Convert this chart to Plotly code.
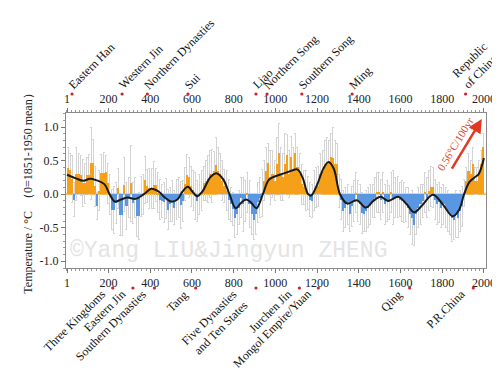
import plotly.graph_objects as go

# ---------------- data ----------------
decade_start = list(range(1, 2001, 10))  # 1,11,...,1991

anomaly = [
    0.39, 0.36, 0.22, -0.08, 0.30, 0.30, 0.28, 0.16, 0.16, 0.29,      # 1-100
    0.29, 0.46, 0.46, 0.12, -0.18, 0.05, 0.32, 0.32, 0.33, 0.16,      # 100-200
    0.00, -0.23, -0.23, -0.13, 0.09, -0.31, -0.31, 0.14, -0.18, -0.05,  # 200-300
    0.16, -0.13, -0.05, -0.33, -0.33, -0.03, 0.00, 0.21, 0.12, 0.09,  # 300-400
    0.09, 0.14, 0.14, 0.02, -0.08, -0.10, -0.12, -0.06, -0.23, -0.15,  # 400-500
    -0.10, -0.20, -0.08, -0.05, -0.16, -0.10, 0.15, 0.29, 0.25, 0.12,  # 500-600
    0.06, -0.02, -0.10, 0.00, 0.05, 0.16, 0.20, 0.22, 0.30, 0.27,     # 600-700
    0.34, 0.44, 0.35, 0.30, 0.20, 0.12, 0.05, -0.08, -0.15, -0.22,    # 700-800
    -0.35, -0.30, -0.20, -0.05, -0.15, -0.10, 0.02, -0.15, -0.30, -0.38,  # 800-900
    -0.30, -0.12, -0.05, 0.02, 0.20, 0.35, 0.46, 0.25, 0.30, 0.20,    # 900-1000
    0.45, 0.61, 0.30, 0.25, 0.45, 0.59, 0.30, 0.56, 0.35, 0.61,       # 1000-1100
    0.40, 0.30, 0.15, 0.10, 0.05, 0.02, -0.08, -0.10, 0.05, 0.10,     # 1100-1200
    0.12, 0.30, 0.35, 0.45, 0.45, 0.50, 0.55, 0.54, 0.45, 0.45,       # 1200-1300
    0.05, -0.08, -0.25, -0.20, -0.15, -0.30, -0.18, -0.10, 0.02, -0.10,  # 1300-1400
    -0.15, -0.28, -0.30, -0.25, -0.20, -0.15, -0.10, -0.05, 0.03, 0.03,  # 1400-1500
    -0.08, 0.03, -0.15, -0.10, -0.12, 0.03, -0.05, -0.05, -0.04, -0.08,  # 1500-1600
    -0.10, -0.12, -0.15, -0.20, -0.30, -0.35, -0.46, -0.30, -0.20, -0.15,  # 1600-1700
    -0.10, 0.03, -0.05, 0.05, 0.11, 0.10, -0.08, -0.15, -0.12, -0.20,  # 1700-1800
    -0.15, -0.20, -0.25, -0.30, -0.35, -0.38, -0.30, -0.35, -0.25, -0.18,  # 1800-1900
    0.02, 0.20, 0.35, 0.30, 0.45, 0.20, 0.20, 0.30, 0.45, 0.71,       # 1900-2000
]

uncertainty = [
    0.30, 0.25, 0.35, 0.25, 0.40, 0.30, 0.30, 0.35, 0.30, 0.25,
    0.30, 0.54, 0.35, 0.30, 0.20, 0.30, 0.27, 0.30, 0.25, 0.30,
    0.30, 0.30, 0.35, 0.30, 0.30, 0.30, 0.30, 0.40, 0.35, 0.30,
    0.56, 0.30, 0.30, 0.30, 0.35, 0.30, 0.30, 0.35, 0.25, 0.30,
    0.30, 0.35, 0.25, 0.30, 0.30, 0.25, 0.30, 0.30, 0.30, 0.25,
    0.30, 0.25, 0.30, 0.30, 0.35, 0.30, 0.25, 0.30, 0.30, 0.30,
    0.30, 0.35, 0.30, 0.30, 0.30, 0.25, 0.30, 0.35, 0.35, 0.40,
    0.30, 0.40, 0.35, 0.30, 0.30, 0.25, 0.30, 0.30, 0.25, 0.25,
    0.30, 0.30, 0.25, 0.30, 0.40, 0.30, 0.30, 0.35, 0.30, 0.30,
    0.30, 0.30, 0.30, 0.35, 0.30, 0.35, 0.30, 0.40, 0.35, 0.30,
    0.40, 0.45, 0.40, 0.35, 0.45, 0.30, 0.35, 0.30, 0.35, 0.30,
    0.30, 0.30, 0.30, 0.25, 0.30, 0.25, 0.25, 0.25, 0.30, 0.30,
    0.30, 0.30, 0.30, 0.35, 0.40, 0.30, 0.35, 0.45, 0.35, 0.30,
    0.25, 0.30, 0.30, 0.30, 0.30, 0.25, 0.30, 0.30, 0.30, 0.30,
    0.30, 0.30, 0.25, 0.30, 0.30, 0.30, 0.25, 0.30, 0.30, 0.30,
    0.30, 0.30, 0.30, 0.30, 0.25, 0.30, 0.40, 0.30, 0.30, 0.25,
    0.30, 0.30, 0.25, 0.30, 0.30, 0.40, 0.30, 0.30, 0.30, 0.30,
    0.25, 0.30, 0.30, 0.30, 0.30, 0.30, 0.30, 0.30, 0.30, 0.30,
    0.30, 0.30, 0.30, 0.30, 0.35, 0.30, 0.35, 0.30, 0.30, 0.30,
    0.20, 0.20, 0.25, 0.20, 0.25, 0.20, 0.20, 0.20, 0.20, 0.20,
]

smooth_year = [1, 40, 80, 110, 140, 180, 205, 230, 260, 290, 330, 370, 405, 440,
               470, 500, 530, 555, 580, 605, 625, 650, 690, 720, 750, 780, 810,
               835, 860, 885, 909, 940, 970, 1020, 1060, 1105, 1130, 1157, 1172,
               1200, 1230, 1255, 1280, 1310, 1345, 1390, 1435, 1470, 1505, 1540,
               1590, 1630, 1665, 1700, 1755, 1800, 1850, 1880, 1905, 1930, 1955,
               1975, 1990, 2000]
smooth_val = [0.29, 0.24, 0.20, 0.23, 0.21, 0.15, 0.00, -0.11, -0.08, -0.05, -0.07,
              0.00, 0.08, 0.04, -0.05, -0.11, -0.08, 0.04, 0.11, 0.03, -0.03, 0.04,
              0.26, 0.31, 0.22, 0.00, -0.21, -0.13, -0.08, -0.13, -0.21, 0.00, 0.22,
              0.29, 0.33, 0.37, 0.25, 0.00, -0.02, 0.14, 0.38, 0.48, 0.38, 0.00,
              -0.14, -0.09, -0.20, -0.10, -0.04, -0.10, -0.04, -0.15, -0.27, -0.18,
              -0.01, -0.14, -0.33, -0.24, 0.00, 0.18, 0.25, 0.30, 0.42, 0.54]

tick_years = [1, 200, 400, 600, 800, 1000, 1200, 1400, 1600, 1800, 2000]
tick_text = [str(t) for t in tick_years]

top_dyn_names = ["Eastern Han", "Western Jin", "Northern Dynasties", "Sui", "Liao",
                 "Northern Song", "Southern Song", "Ming", "Republic<br>of China"]
top_dyn_years = [25, 265, 386, 581, 907, 960, 1127, 1368, 1912]

bot_dyn_names = ["Three Kingdoms", "Eastern Jin", "Southern Dynasties", "Tang",
                 "Five Dynasties<br>and Ten States", "Jurchen Jin",
                 "Mongol Empire/Yuan", "Qing", "P.R.China"]
bot_dyn_years = [220, 317, 420, 618, 907, 1115, 1206, 1644, 1949]

# ---------------- styles ----------------
ORANGE = "#F6A01A"
BLUE = "#5A97E3"
RED = "#E23A22"
SERIF = "Liberation Serif, Times New Roman, serif"
bar_colors = [ORANGE if v >= 0 else BLUE for v in anomaly]
Y_TOP, Y_BOT = 1.21, -1.1

fig = go.Figure()
# uncertainty whiskers (drawn first, behind the bars)
fig.add_trace(go.Bar(
    x=decade_start, y=anomaly, width=10, offset=0,
    marker=dict(color="rgba(0,0,0,0)", line=dict(width=0)),
    error_y=dict(type="data", array=uncertainty, color="#d4d4d4",
                 thickness=1, width=1),
    hoverinfo="skip", showlegend=False,
))
fig.add_trace(go.Bar(
    x=decade_start, y=anomaly, width=10, offset=0,
    marker=dict(color=bar_colors, line=dict(width=0)),
    hoverinfo="skip", showlegend=False,
))
fig.add_trace(go.Scatter(
    x=smooth_year, y=smooth_val, mode="lines",
    line=dict(color="#1a1a1a", width=2, shape="spline", smoothing=1.0),
    hoverinfo="skip", showlegend=False,
))
# invisible trace on the top axis
fig.add_trace(go.Scatter(x=[tick_years[0], tick_years[-1]], y=[0, 0], xaxis="x2",
                         mode="lines", line=dict(width=0), opacity=0,
                         hoverinfo="skip", showlegend=False))

XR = [-4, 2010]
axis_common = dict(
    range=XR, tickvals=tick_years, ticktext=tick_text, ticks="outside",
    ticklen=4, tickcolor="#777", tickwidth=1, showgrid=False, zeroline=False,
    showline=True, linecolor="#8a8a8a", linewidth=1, automargin=False,
    tickfont=dict(family=SERIF, size=12, color="#222"),
    minor=dict(dtick=20, tick0=0, ticks="outside", ticklen=2, tickcolor="#999"),
)
fig.update_layout(
    width=500, height=372,
    margin=dict(l=58, r=22, t=105, b=112, autoexpand=False),
    paper_bgcolor="white", plot_bgcolor="white",
    bargap=0, barmode="overlay",
    xaxis=dict(**axis_common, side="bottom"),
    xaxis2=dict(**axis_common, side="top", overlaying="x", matches="x", anchor="y"),
    yaxis=dict(
        range=[Y_BOT, Y_TOP], tickvals=[-1.0, -0.5, 0.0, 0.5, 1.0],
        ticktext=["-1.0", "-0.5", "0.0", "0.5", "1.0"],
        ticks="outside", ticklen=4, tickcolor="#777", automargin=False,
        minor=dict(dtick=0.1, ticks="outside", ticklen=2, tickcolor="#999"),
        showgrid=False, zeroline=False, showline=True, mirror=True,
        linecolor="#8a8a8a", linewidth=1,
        tickfont=dict(family=SERIF, size=12, color="#222"),
        title=dict(text="Temperature / °C  （0=1851-1950 mean）",
                   font=dict(family=SERIF, size=12, color="#222"), standoff=4),
    ),
    font=dict(family=SERIF),
)

# orange zero line
fig.add_shape(type="line", xref="paper", yref="y", x0=0, x1=1, y0=0, y1=0,
              line=dict(color=ORANGE, width=1.2), layer="below")

# watermark
fig.add_annotation(text="©Yang LIU&Jingyun ZHENG", xref="paper", yref="y",
                   x=0.004, y=-0.84, xanchor="left", yanchor="middle",
                   showarrow=False,
                   font=dict(family="Liberation Mono, Courier New, monospace",
                             size=23, color="#e4e4e4"))

# trend arrow
fig.add_annotation(x=1990, y=1.12, ax=1842, ay=0.36, xref="x", yref="y",
                   axref="x", ayref="y", text="", showarrow=True,
                   arrowhead=2, arrowsize=1.1, arrowwidth=2.5, arrowcolor=RED)
fig.add_annotation(x=1862, y=0.75, xref="x", yref="y", text="0.56°C/100yr",
                   textangle=-59, showarrow=False,
                   font=dict(family=SERIF, size=11, color="#D8442A"))

# dynasty labels
for name, yr in zip(top_dyn_names, top_dyn_years):
    two = "<br>" in name
    fig.add_shape(type="circle", xref="x", yref="paper",
                  xsizemode="pixel", ysizemode="pixel",
                  xanchor=yr, yanchor=1, x0=-1.6, x1=1.6, y0=17.4, y1=20.6,
                  fillcolor="#D0202E", line=dict(width=0))
    fig.add_annotation(text=name, xref="x", yref="y", x=yr, y=1.2,
                       xanchor="left", yanchor="bottom",
                       xshift=-19 if two else -9, yshift=19,
                       textangle=-45, showarrow=False, align="left",
                       font=dict(family=SERIF, size=12, color="#111"))

for name, yr in zip(bot_dyn_names, bot_dyn_years):
    fig.add_shape(type="circle", xref="x", yref="paper",
                  xsizemode="pixel", ysizemode="pixel",
                  xanchor=yr, yanchor=0, x0=-1.6, x1=1.6, y0=-21.6, y1=-18.4,
                  fillcolor="#D0202E", line=dict(width=0))
    fig.add_annotation(text=name, xref="x", yref="y", x=yr, y=-1.09,
                       xanchor="right", yanchor="top", xshift=-2, yshift=-17,
                       textangle=-45, showarrow=False, align="right",
                       font=dict(family=SERIF, size=12, color="#111"))

fig.write_html("out.html")
